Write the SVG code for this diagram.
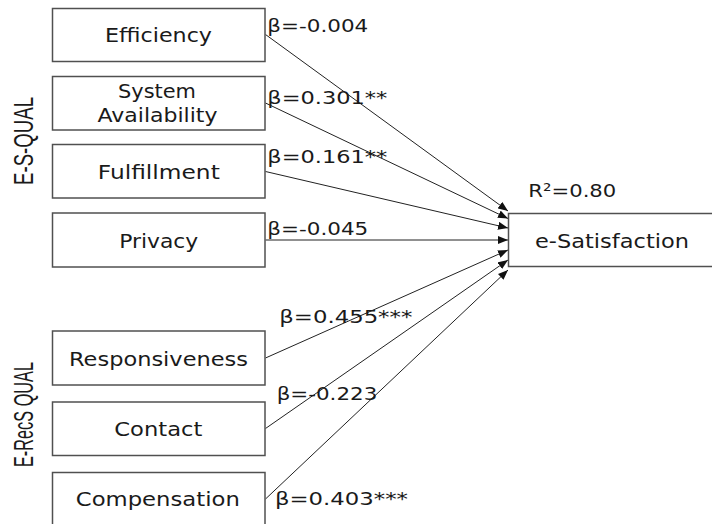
<svg xmlns="http://www.w3.org/2000/svg" width="712" height="524" viewBox="0 0 712 524">
<defs>
<style>
.box{fill:#ffffff;stroke:#505050;stroke-width:1.5}
.lbl{font-family:"DejaVu Sans","Verdana",sans-serif;font-size:19px;fill:#1a1a1a;text-anchor:middle}
.beta{font-family:"DejaVu Sans","Verdana",sans-serif;font-size:18px;fill:#1a1a1a}
.grp{font-family:"Liberation Sans",Arial,sans-serif;font-size:28px;fill:#1a1a1a;text-anchor:middle}
.con{stroke:#222222;stroke-width:1;fill:none;marker-end:url(#arr)}
</style>
<marker id="arr" viewBox="0 0 10 8" refX="10" refY="4" markerWidth="10" markerHeight="8" markerUnits="userSpaceOnUse" orient="auto">
<path d="M0,0 L10,4 L0,8 Z" fill="#111111"/>
</marker>
</defs>
<rect width="712" height="524" fill="#ffffff"/>

<g id="group-labels">
<text class="grp" transform="translate(33,141) rotate(-90)" textLength="88" lengthAdjust="spacingAndGlyphs">E-S-QUAL</text>
<text class="grp" transform="translate(33,414.5) rotate(-90)" textLength="105" lengthAdjust="spacingAndGlyphs">E-RecS QUAL</text>
</g>

<g id="connectors">
<line class="con" x1="265.5" y1="34.5" x2="508" y2="211"/>
<line class="con" x1="265.5" y1="103" x2="508" y2="218.5"/>
<line class="con" x1="265.5" y1="171.5" x2="508" y2="228"/>
<line class="con" x1="265.5" y1="240" x2="508" y2="240"/>
<line class="con" x1="265.5" y1="358" x2="508" y2="250"/>
<line class="con" x1="265.5" y1="428.5" x2="508" y2="260"/>
<line class="con" x1="265.5" y1="499" x2="508" y2="270"/>
</g>

<g id="efficiency">
<rect class="box" x="52.5" y="8.5" width="212.5" height="53"/>
<text class="lbl" x="158.5" y="42" textLength="107" lengthAdjust="spacingAndGlyphs">Efficiency</text>
</g>
<g id="system-availability">
<rect class="box" x="52.5" y="76.5" width="212.5" height="53.5"/>
<text class="lbl" x="157" y="98" textLength="78" lengthAdjust="spacingAndGlyphs">System</text>
<text class="lbl" x="157.5" y="122" textLength="120" lengthAdjust="spacingAndGlyphs">Availability</text>
</g>
<g id="fulfillment">
<rect class="box" x="52.5" y="144.5" width="212.5" height="53.5"/>
<text class="lbl" x="158.8" y="178.5" textLength="122" lengthAdjust="spacingAndGlyphs">Fulfillment</text>
</g>
<g id="privacy">
<rect class="box" x="52.5" y="213" width="212.5" height="54"/>
<text class="lbl" x="158.7" y="247.5" textLength="79" lengthAdjust="spacingAndGlyphs">Privacy</text>
</g>
<g id="responsiveness">
<rect class="box" x="52.5" y="331" width="212.5" height="54"/>
<text class="lbl" x="158.5" y="365.5" textLength="179" lengthAdjust="spacingAndGlyphs">Responsiveness</text>
</g>
<g id="contact">
<rect class="box" x="52.5" y="402" width="212.5" height="53.5"/>
<text class="lbl" x="158.3" y="436" textLength="88" lengthAdjust="spacingAndGlyphs">Contact</text>
</g>
<g id="compensation">
<rect class="box" x="52.5" y="472.5" width="212.5" height="54"/>
<text class="lbl" x="157.8" y="506" textLength="164" lengthAdjust="spacingAndGlyphs">Compensation</text>
</g>
<g id="e-satisfaction">
<rect class="box" x="508.5" y="213.5" width="210" height="53"/>
<text class="lbl" x="612" y="247.5" textLength="154" lengthAdjust="spacingAndGlyphs">e-Satisfaction</text>
</g>

<g id="coefficients">
<text class="beta" x="267.3" y="32" textLength="101" lengthAdjust="spacingAndGlyphs">β=-0.004</text>
<text class="beta" x="267.3" y="104" textLength="120" lengthAdjust="spacingAndGlyphs">β=0.301**</text>
<text class="beta" x="267.3" y="163" textLength="120" lengthAdjust="spacingAndGlyphs">β=0.161**</text>
<text class="beta" x="267.3" y="235" textLength="101" lengthAdjust="spacingAndGlyphs">β=-0.045</text>
<text class="beta" x="279.3" y="322.5" textLength="133" lengthAdjust="spacingAndGlyphs">β=0.455***</text>
<text class="beta" x="276.7" y="400" textLength="100.6" lengthAdjust="spacingAndGlyphs">β=-0.223</text>
<text class="beta" x="275" y="505" textLength="133" lengthAdjust="spacingAndGlyphs">β=0.403***</text>
<text class="beta" x="528.3" y="196.7" textLength="88" lengthAdjust="spacingAndGlyphs">R²=0.80</text>
</g>
</svg>
